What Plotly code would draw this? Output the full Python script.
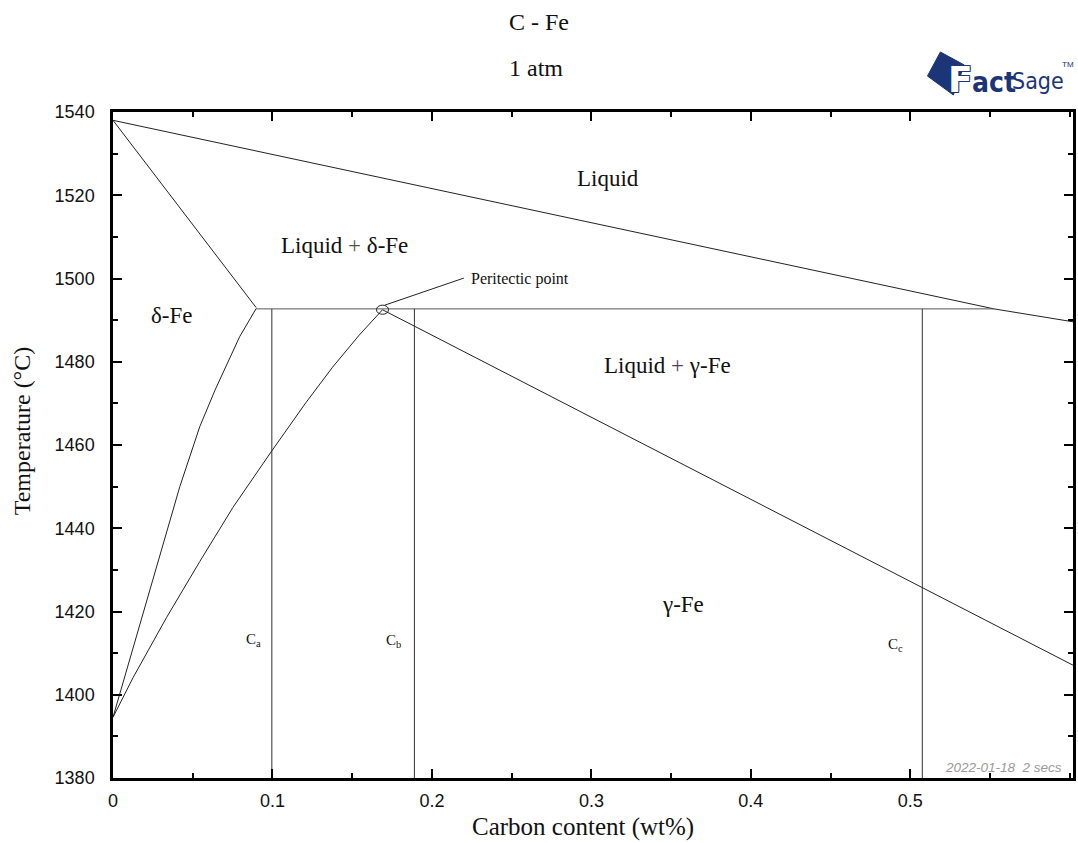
import plotly.graph_objects as go

# ---- data (wt% C, temperature degC) ----
liquidus_x = [0.0, 0.30, 0.5525, 0.602]
liquidus_t = [1538.0, 1513.4, 1492.7, 1489.6]

delta_solidus_x = [0.0, 0.0898]
delta_solidus_t = [1538.0, 1493.0]

delta_solvus_x = [0.0898, 0.0794, 0.0640, 0.0544, 0.0419, 0.0347, 0.0275, 0.0195, 0.0125, 0.0044, 0.0]
delta_solvus_t = [1492.8, 1486.0, 1473.2, 1464.4, 1450.0, 1440.4, 1430.8, 1420.0, 1410.7, 1400.3, 1394.6]

gamma_solvus_x = [0.0, 0.0127, 0.0335, 0.0544, 0.0752, 0.0996, 0.121, 0.1377, 0.1544, 0.169]
gamma_solvus_t = [1394.6, 1404.2, 1418.5, 1432.0, 1445.0, 1458.6, 1470.2, 1478.7, 1486.4, 1492.5]

gamma_solidus_x = [0.169, 0.602]
gamma_solidus_t = [1492.5, 1407.1]

peritectic_x = [0.0898, 0.5525]
peritectic_t = [1492.7, 1492.7]
peritectic_point = (0.169, 1492.5)

comp_names = ["C<sub>a</sub>", "C<sub>b</sub>", "C<sub>c</sub>"]
comp_x = [0.0996, 0.189, 0.5075]
comp_label_x = [0.088, 0.1756, 0.4906]
comp_label_t = [1413.2, 1413.0, 1412.0]

region_labels = ["Liquid", "Liquid + δ-Fe", "δ-Fe", "Liquid + γ-Fe", "γ-Fe"]
region_x = [0.3106, 0.145, 0.037, 0.348, 0.3575]
region_t = [1524.1, 1508.0, 1491.0, 1479.0, 1421.6]

x_ticks = [0, 0.1, 0.2, 0.3, 0.4, 0.5]
y_ticks = [1380, 1400, 1420, 1440, 1460, 1480, 1500, 1520, 1540]

SERIF = "Liberation Serif, Times New Roman, serif"
SANS = "Liberation Sans, Arial, sans-serif"
LC = "#222222"

W, H = 1078, 843
L, R, T, B = 113, 2, 112, 65
pw, ph = W - L - R, H - T - B


def pxx(p):
    return (p - L) / pw


def pxy(p):
    return (H - B - p) / ph


fig = go.Figure()


def add_line(xs, ts, color=LC, width=1):
    fig.add_trace(go.Scatter(x=xs, y=ts, mode="lines",
                             line=dict(color=color, width=width),
                             hoverinfo="skip", showlegend=False))


add_line(liquidus_x, liquidus_t)
add_line(delta_solidus_x, delta_solidus_t)
add_line(delta_solvus_x, delta_solvus_t)
add_line(gamma_solvus_x, gamma_solvus_t)
add_line(gamma_solidus_x, gamma_solidus_t)
add_line(peritectic_x, peritectic_t, color="#555555")
for cx in comp_x:
    add_line([cx, cx], [1380, peritectic_t[0]], color="#333333")

# peritectic marker and pointer
px, pt = peritectic_point
fig.add_shape(type="circle", xref="x", yref="y",
              x0=px - 0.0038, x1=px + 0.0038, y0=pt - 1.1, y1=pt + 1.1,
              line=dict(color=LC, width=1))
add_line([px + 0.0015, 0.22], [pt + 1.1, 1500.1])
fig.add_annotation(x=0.2235, y=1499.9, xref="x", yref="y", text="Peritectic point",
                   showarrow=False, xanchor="left", yanchor="middle",
                   font=dict(family=SERIF, size=16, color="#111"))

# region labels
for lab, x, t in zip(region_labels, region_x, region_t):
    if "δ" in lab:
        lab_html = lab.replace("+", "<span style='color:#4a5a4a'>+</span>")
    else:
        lab_html = lab.replace("+", "<span style='color:#5a3a5a'>+</span>")
    fig.add_annotation(x=x, y=t, xref="x", yref="y", text=lab_html, showarrow=False,
                       xanchor="center", yanchor="middle",
                       font=dict(family=SERIF, size=23, color="#111"))

for name, x, t in zip(comp_names, comp_label_x, comp_label_t):
    fig.add_annotation(x=x, y=t, xref="x", yref="y", text=name, showarrow=False,
                       xanchor="center", yanchor="middle",
                       font=dict(family=SERIF, size=15, color="#111"))


def paper_text(xp, yp, text, font, anchor="center", angle=0):
    fig.add_annotation(x=pxx(xp), y=pxy(yp), xref="paper", yref="paper", text=text,
                       showarrow=False, xanchor=anchor, yanchor="middle",
                       textangle=angle, font=font)


paper_text(540, 22, "C - Fe", dict(family=SERIF, size=24, color="#111"))
paper_text(537, 68, "1 atm", dict(family=SERIF, size=24, color="#111"))
paper_text(584, 827, "Carbon content (wt%)", dict(family=SERIF, size=25, color="#111"))
paper_text(22, 431, "Temperature (°C)", dict(family=SERIF, size=24, color="#111"), angle=-90)
paper_text(1067, 767, "2022-01-18\u00a0\u00a02 secs",
           dict(family=SANS, size=13.5, color="#9a9a9a", style="italic"), anchor="right")

# FactSage logo
NAVY = "#1c3577"
dx = [(943, 52), (967, 65), (956, 95), (930, 76)]
path = "M " + " L ".join(f"{pxx(a)},{pxy(b)}" for a, b in dx) + " Z"
fig.add_shape(type="path", xref="paper", yref="paper", path=path,
              fillcolor=NAVY, line=dict(color=NAVY, width=1))
paper_text(949, 79, "<b>F</b>",
           dict(family="DejaVu Sans, sans-serif", size=36, color="white",
                shadow=f"1px 1px 0 {NAVY}, -1px -1px 0 {NAVY}, 1px -1px 0 {NAVY}, -1px 1px 0 {NAVY}"),
           anchor="left")
paper_text(973, 82, "<b>act</b>",
           dict(family="DejaVu Sans Condensed, DejaVu Sans, sans-serif", size=28, color=NAVY),
           anchor="left")
paper_text(1013, 81, "Sage",
           dict(family="DejaVu Sans Condensed, DejaVu Sans, sans-serif", size=23, color=NAVY),
           anchor="left")
paper_text(1063, 64, "TM", dict(family=SANS, size=8, color=NAVY), anchor="left")

axis_common = dict(showline=True, linecolor="black", linewidth=2.5, mirror="ticks",
                   ticks="inside", ticklen=9, tickwidth=2, tickcolor="black",
                   showgrid=False, zeroline=False,
                   tickfont=dict(family=SANS, size=18, color="#111"))

fig.update_xaxes(range=[0, 0.602], tickvals=x_ticks, ticktext=[str(v) for v in x_ticks],
                 minor=dict(dtick=0.05, tick0=0, ticks="inside", ticklen=5, tickwidth=2,
                            tickcolor="black", showgrid=False),
                 ticklabelstandoff=5, **axis_common)
fig.update_yaxes(range=[1380, 1540], tickvals=y_ticks,
                 minor=dict(dtick=10, tick0=1380, ticks="inside", ticklen=5, tickwidth=2,
                            tickcolor="black", showgrid=False),
                 ticklabelstandoff=12, **axis_common)

fig.update_layout(width=W, height=H, margin=dict(l=L, r=R, t=T, b=B),
                  plot_bgcolor="white", paper_bgcolor="white", showlegend=False)

fig.write_html("out.html")
